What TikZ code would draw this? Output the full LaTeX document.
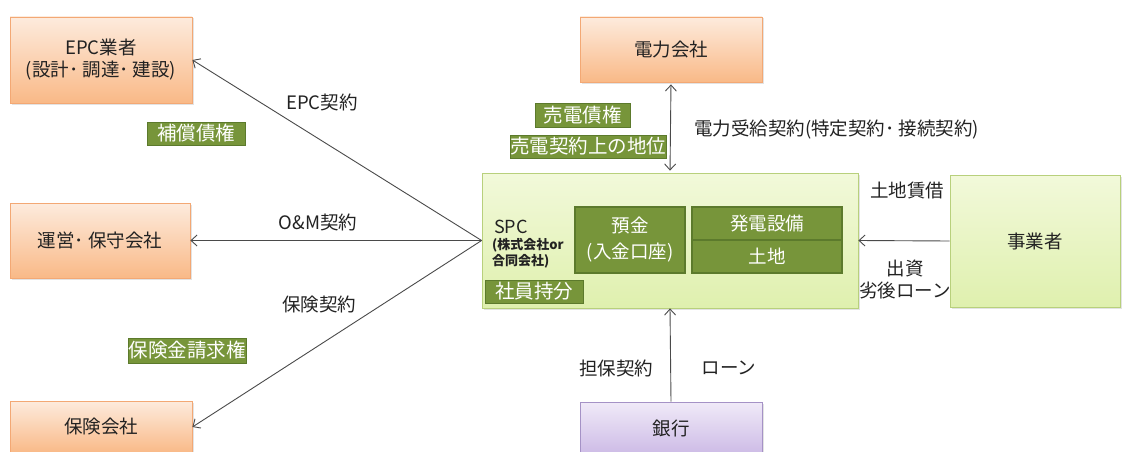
\documentclass[tikz,border=0pt]{standalone}
\usepackage{fontspec}
\setmainfont{Noto Sans CJK JP}
\usetikzlibrary{arrows.meta,shadows}
\definecolor{otop}{HTML}{FDEBDD}
\definecolor{obot}{HTML}{F9B987}
\definecolor{oborder}{HTML}{F3A874}
\definecolor{gtop}{HTML}{F2F9DA}
\definecolor{gbot}{HTML}{DFF0AE}
\definecolor{gborder}{HTML}{B8D07C}
\definecolor{ptop}{HTML}{F0EAF8}
\definecolor{pbot}{HTML}{CDBBE6}
\definecolor{pborder}{HTML}{A592C6}
\definecolor{lfill}{HTML}{77953A}
\definecolor{lborder}{HTML}{5C7A2C}
\definecolor{txt}{HTML}{222222}
\definecolor{conncol}{HTML}{4A4A4A}
\begin{document}
\begin{tikzpicture}[x=1pt,y=-1pt,
  every node/.style={inner sep=0pt, text=txt},
  shad/.style={drop shadow={opacity=0.22,shadow xshift=1.5pt,shadow yshift=-1.5pt}},
  obox/.style={draw=oborder, line width=0.8pt, top color=otop, bottom color=obot, shad,
    font=\fontsize{18.5}{22}\selectfont, align=center},
  gbox/.style={draw=gborder, line width=0.8pt, top color=gtop, bottom color=gbot, shad,
    font=\fontsize{18.5}{22}\selectfont, align=center},
  pbox/.style={draw=pborder, line width=0.8pt, top color=ptop, bottom color=pbot, shad,
    font=\fontsize{18.5}{22}\selectfont, align=center},
  ibox/.style={draw=lborder, line width=1.6pt, fill=lfill, text=white,
    font=\fontsize{18.5}{26}\selectfont, align=center},
  glabel/.style={draw=lborder, line width=0.8pt, fill=lfill, text=white,
    font=\fontsize{19.5}{22}\selectfont},
  lbl/.style={font=\fontsize{18.5}{22}\selectfont, align=center},
  subl/.style={font=\fontsize{13}{15}\bfseries\selectfont, anchor=west},
  conn/.style={draw=conncol, line width=0.9pt, -{Straight Barb[length=6pt,width=11pt]}}
]
\useasboundingbox (0,0) rectangle (1124,452);

% outer boxes
\node[obox, minimum width=182pt, minimum height=86pt] (epc) at (101,60) {EPC業者\\(設計･ 調達･ 建設)};
\node[obox, minimum width=180pt, minimum height=75pt] (om) at (100,240.5) {運営･ 保守会社};
\node[obox, minimum width=182pt, minimum height=52pt] (ins) at (101,427) {保険会社};
\node[obox, minimum width=182pt, minimum height=65pt] (power) at (671,49.5) {電力会社};
\node[gbox, minimum width=376pt, minimum height=135pt] (spc) at (670,240.5) {};
\node[gbox, minimum width=170pt, minimum height=132pt] (biz) at (1035,241) {事業者};
\node[pbox, minimum width=182pt, minimum height=52pt] (bank) at (671,428) {銀行};

% inside SPC
\node[ibox, minimum width=110pt, minimum height=66pt] (dep) at (630,240) {預金\\(入金口座)};
\node[ibox, minimum width=150pt, minimum height=33pt] (gen) at (767,223.5) {発電設備};
\node[ibox, minimum width=150pt, minimum height=33pt] (land) at (767,256.5) {土地};
\node[glabel, minimum width=98pt, minimum height=23pt] (share) at (534,291.5) {社員持分};
\node[font=\fontsize{18}{20}\selectfont, anchor=west] (spct) at (494,227) {SPC};
\node[subl] (spcs1) at (492,245) {(株式会社or};
\node[subl] (spcs2) at (492,261) {合同会社)};

% green labels
\node[glabel, minimum width=98pt, minimum height=23pt] (l1) at (196,133.5) {補償債権};
\node[glabel, minimum width=118pt, minimum height=25pt] (l2) at (187,350.5) {保険金請求権};
\node[glabel, minimum width=95pt, minimum height=24pt] (l3) at (582.5,115) {売電債権};
\node[glabel, minimum width=150pt, minimum height=23pt] (l4) at (588,146.5) {売電契約上の地位};

% connectors
\draw[conn] (spc.west) -- (epc.east);
\draw[conn] (spc.west) -- (om.east);
\draw[conn] (spc.west) -- (ins.east);
\draw[conn, {Straight Barb[length=6pt,width=11pt]}-{Straight Barb[length=6pt,width=11pt]}, shorten <=2pt, shorten >=2pt] (power.south) -- (spc.north);
\draw[conn] (biz.west) -- (spc.east);
\draw[conn] (bank.north) -- (spc.south);

% connector labels
\node[lbl] (t1) at (322,102) {EPC契約};
\node[lbl] (t2) at (318,222) {O\&M契約};
\node[lbl] (t3) at (319,305) {保険契約};
\node[lbl, anchor=west] (t4) at (694,130) {電力受給契約(特定契約･ 接続契約)};
\node[lbl] (t5) at (907,190) {土地賃借};
\node[lbl] (t6) at (905,279) {出資\\劣後ローン};
\node[lbl] (t7) at (616,368) {担保契約};
\node[lbl] (t8) at (729,368) {ローン};
\end{tikzpicture}
\end{document}
